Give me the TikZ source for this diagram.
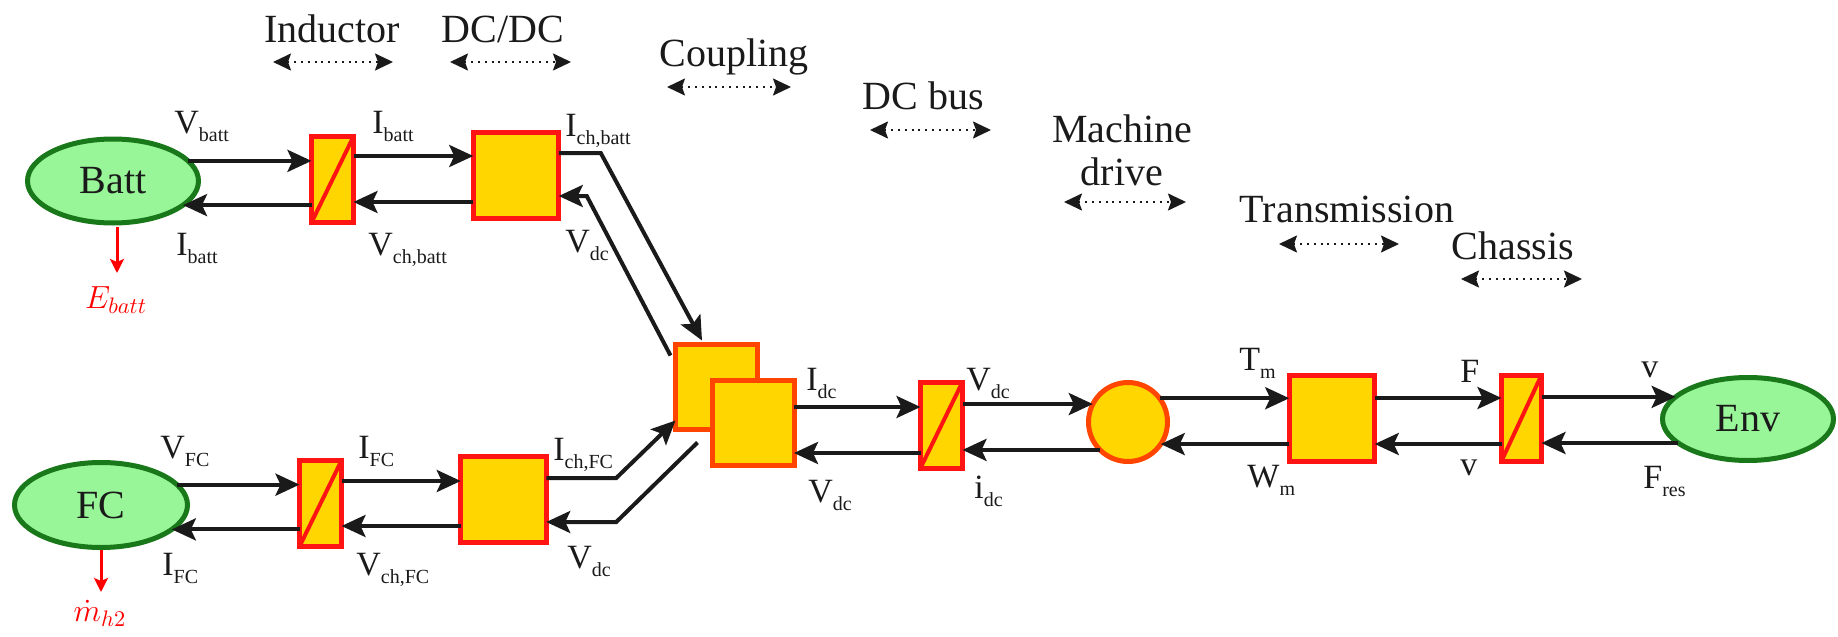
\RequirePackage{fix-cm}
\documentclass[tikz,border=0pt]{standalone}
\usepackage{fontspec}
\setmainfont{Liberation Serif}
\usetikzlibrary{arrows.meta,shapes.geometric,calc}

\definecolor{boxfill}{RGB}{255,214,0}
\definecolor{boxred}{RGB}{255,20,20}
\definecolor{boxorange}{RGB}{255,69,0}
\definecolor{ellfill}{RGB}{152,245,152}
\definecolor{ellgreen}{RGB}{25,120,25}
\definecolor{ink}{RGB}{26,26,26}

\newcommand{\sig}[2]{#1\raisebox{-4pt}{\fontsize{10}{10}\selectfont #2}}

\begin{document}
\begin{tikzpicture}[x=0.5pt,y=-0.5pt,
  blockbox/.style={draw=boxred, fill=boxfill, line width=2.5pt, outer sep=0pt, inner sep=0pt, minimum width=42.75pt, minimum height=43pt},
  indbox/.style={blockbox, minimum width=21pt},
  coupbox/.style={blockbox, draw=boxorange, minimum width=41pt, minimum height=42.5pt},
  srcell/.style={ellipse, draw=ellgreen, fill=ellfill, line width=2.5pt, outer sep=0pt, inner sep=0pt},
  srctext/.style={inner sep=0pt, font=\fontsize{20}{20}\selectfont, text=ink},
  conn/.style={draw=ink, line width=2pt, -{Stealth[length=12pt,width=11pt,inset=2.5pt]}},
  redarr/.style={draw=red, line width=1.5pt, -{Stealth[length=7pt,width=7pt,inset=1.5pt]}},
  span/.style={draw=ink, line width=1pt, dash pattern=on 1pt off 2.4pt, {Stealth[length=9pt,width=8.5pt,inset=1.5pt]}-{Stealth[length=9pt,width=8.5pt,inset=1.5pt]}},
  sigl/.style={anchor=base west, inner sep=0pt, text=ink, font=\fontsize{17}{17}\selectfont},
  ttl/.style={anchor=base, inner sep=0pt, text=ink, font=\fontsize{20}{21.5}\selectfont},
  diag/.style={draw=boxred, line width=2pt}
]
\useasboundingbox (0,0) rectangle (1838,637);

% sources
\node[srcell, minimum width=85.5pt, minimum height=42pt] (batt) at (113,181) {};
\node[srcell, minimum width=86.5pt, minimum height=42.5pt] (fc) at (101,505) {};
\node[srcell, minimum width=85.5pt, minimum height=41.5pt] (env) at (1748,419) {};
\node[srctext] (battT) at (batt.center) {Batt};
\node[srctext] (fcT) at (fc.center) {FC};
\node[srctext] (envT) at (env.center) {Env};

% blocks
\node[indbox] (indB) at (332.5,179.5) {};
\node[blockbox] (dcB) at (516,175.5) {};
\node[indbox] (indF) at (320.5,503.5) {};
\node[blockbox] (dcF) at (503.5,499.5) {};
\node[coupbox] (coupB) at (716.5,387) {};
\node[coupbox] (coupF) at (753,422.5) {};
\node[indbox] (indC) at (941.5,425) {};
\node[circle, draw=boxorange, fill=boxfill, line width=2.5pt, outer sep=0pt, inner sep=0pt, minimum size=39.5pt] (mach) at (1128,422) {};
\node[blockbox] (trans) at (1332,418) {};
\node[indbox, minimum width=20pt] (indE) at (1521.5,418) {};

\foreach \n in {indB,indF,indC,indE}{
  \draw[diag] (\n.south west) -- (\n.north east);
}

% battery branch
\draw[conn] (batt.15) -- (batt.15 -| indB.west);
\draw[conn] (indB.west |- batt.-19) -- (batt.-19);
\draw[conn] ([yshift=11.75pt]indB.east) -- ([yshift=11.75pt]indB.east -| dcB.west);
\draw[conn] ([yshift=-13.25pt]dcB.west) -- ([yshift=-13.25pt]dcB.west -| indB.east);

% fuel cell branch
\draw[conn] (fc.15) -- (fc.15 -| indF.west);
\draw[conn] (indF.west |- fc.-19) -- (fc.-19);
\draw[conn] ([yshift=11.25pt]indF.east) -- ([yshift=11.25pt]indF.east -| dcF.west);
\draw[conn] ([yshift=-11.25pt]indF.east -| dcF.west) -- ([yshift=-11.25pt]indF.east);

% coupling
\draw[conn] ([yshift=11.25pt]dcB.east) -- ++(42,0) -- ([xshift=-7.25pt,yshift=2pt]coupB.north);
\draw[conn] ([xshift=-2.5pt,yshift=-5.5pt]coupB.north west) -- ([xshift=14pt,yshift=-10.25pt]dcB.east) -- ([yshift=-10.25pt]dcB.east);
\draw[conn] ([yshift=10.75pt]dcF.east) -- ++(70,0) -- ([yshift=4.5pt]coupB.south west);
\draw[conn] ([xshift=11pt,yshift=-6.5pt]coupB.south west) -- ([xshift=35pt,yshift=-11.25pt]dcF.east) -- ([yshift=-11.25pt]dcF.east);

% DC bus
\draw[conn] ([yshift=7.75pt]coupF.east) -- ([yshift=7.75pt]coupF.east -| indC.west);
\draw[conn] ([yshift=-15.25pt]coupF.east -| indC.west) -- ([yshift=-15.25pt]coupF.east);

% machine drive
\draw[conn] (indC.east |- mach.153) -- (mach.153);
\draw[conn] (mach.-135) -- (mach.-135 -| indC.east);

% transmission
\draw[conn] (mach.37) -- (mach.37 -| trans.west);
\draw[conn] (trans.west |- mach.-34) -- (mach.-34);

% chassis
\draw[conn] ([yshift=10pt]trans.east) -- ([yshift=10pt]trans.east -| indE.west);
\draw[conn] ([yshift=-13pt]trans.east -| indE.west) -- ([yshift=-13pt]trans.east);
\draw[conn] (indE.east |- env.163) -- (env.163);
\draw[conn] (env.-161) -- (env.-161 -| indE.east);

% red outputs
\node[anchor=north, inner sep=0pt, text=red, font=\fontsize{16}{16}\selectfont] (ebatt) at (116,286) {$E_{batt}$};
\node[anchor=north, inner sep=0pt, text=red, font=\fontsize{16}{16}\selectfont] (mh2) at (100,600) {$\dot{m}_{h2}$};
\draw[redarr, shorten <=2pt, shorten >=6.5pt] ([xshift=2pt]batt.south) -- ([xshift=2pt]batt.south |- ebatt.north);
\draw[redarr, shorten <=1pt, shorten >=4pt] (fc.south) -- (fc.south |- mh2.north);

% signal labels
\node[sigl] (lVbatt) at (174,133) {\sig{V}{batt}};
\node[sigl] (lIbattT) at (372,133) {\sig{I}{batt}};
\node[sigl] (lIchbatt) at (565,136) {\sig{I}{ch,batt}};
\node[sigl] (lIbattB) at (176,255) {\sig{I}{batt}};
\node[sigl] (lVchbatt) at (368,255) {\sig{V}{ch,batt}};
\node[sigl] (lVdcB) at (565,252) {\sig{V}{dc}};
\node[sigl] (lVFC) at (160,458) {\sig{V}{FC}};
\node[sigl] (lIFCT) at (358,458) {\sig{I}{FC}};
\node[sigl] (lIchFC) at (553,460) {\sig{I}{ch,FC}};
\node[sigl] (lIFCB) at (162,575) {\sig{I}{FC}};
\node[sigl] (lVchFC) at (356,575) {\sig{V}{ch,FC}};
\node[sigl] (lVdcF) at (567,568) {\sig{V}{dc}};
\node[sigl] (lIdc) at (806,390) {\sig{I}{dc}};
\node[sigl] (lVdcC) at (808,502) {\sig{V}{dc}};
\node[sigl] (lVdcM) at (966,390) {\sig{V}{dc}};
\node[sigl] (lidc) at (974,498) {\sig{i}{dc}};
\node[sigl] (lTm) at (1239,370) {\sig{T}{m}};
\node[sigl] (lWm) at (1247,487) {\sig{W}{m}};
\node[sigl] (lF) at (1460,382) {F};
\node[sigl] (lvB) at (1460,475) {v};
\node[sigl] (lvT) at (1641,377) {v};
\node[sigl] (lFres) at (1643,488) {\sig{F}{res}};

% section titles
\node[ttl] (tInd) at (332,42) {Inductor};
\node[ttl] (tDC) at (503,42) {DC/DC};
\node[ttl] (tCoup) at (734,66) {Coupling};
\node[ttl] (tBus) at (923,109) {DC bus};
\node[ttl, anchor=north, align=center] (tMach) at (1122,114.5) {Machine\\drive};
\node[ttl] (tTrans) at (1347,222) {Transmission};
\node[ttl] (tChas) at (1513,259) {Chassis};

% span markers
\coordinate (sInd1) at (273,62);  \coordinate (sInd2) at (393,62);
\coordinate (sDC1) at (450,62);   \coordinate (sDC2) at (571,62);
\coordinate (sCp1) at (667,87);   \coordinate (sCp2) at (791,87);
\coordinate (sBus1) at (870,130); \coordinate (sBus2) at (991,130);
\coordinate (sMd1) at (1064,202); \coordinate (sMd2) at (1186,202);
\coordinate (sTr1) at (1279,244); \coordinate (sTr2) at (1399,244);
\coordinate (sCh1) at (1461,279); \coordinate (sCh2) at (1582,279);
\draw[span] (sInd1) -- (sInd2);
\draw[span] (sDC1) -- (sDC2);
\draw[span] (sCp1) -- (sCp2);
\draw[span] (sBus1) -- (sBus2);
\draw[span] (sMd1) -- (sMd2);
\draw[span] (sTr1) -- (sTr2);
\draw[span] (sCh1) -- (sCh2);
\end{tikzpicture}
\end{document}
